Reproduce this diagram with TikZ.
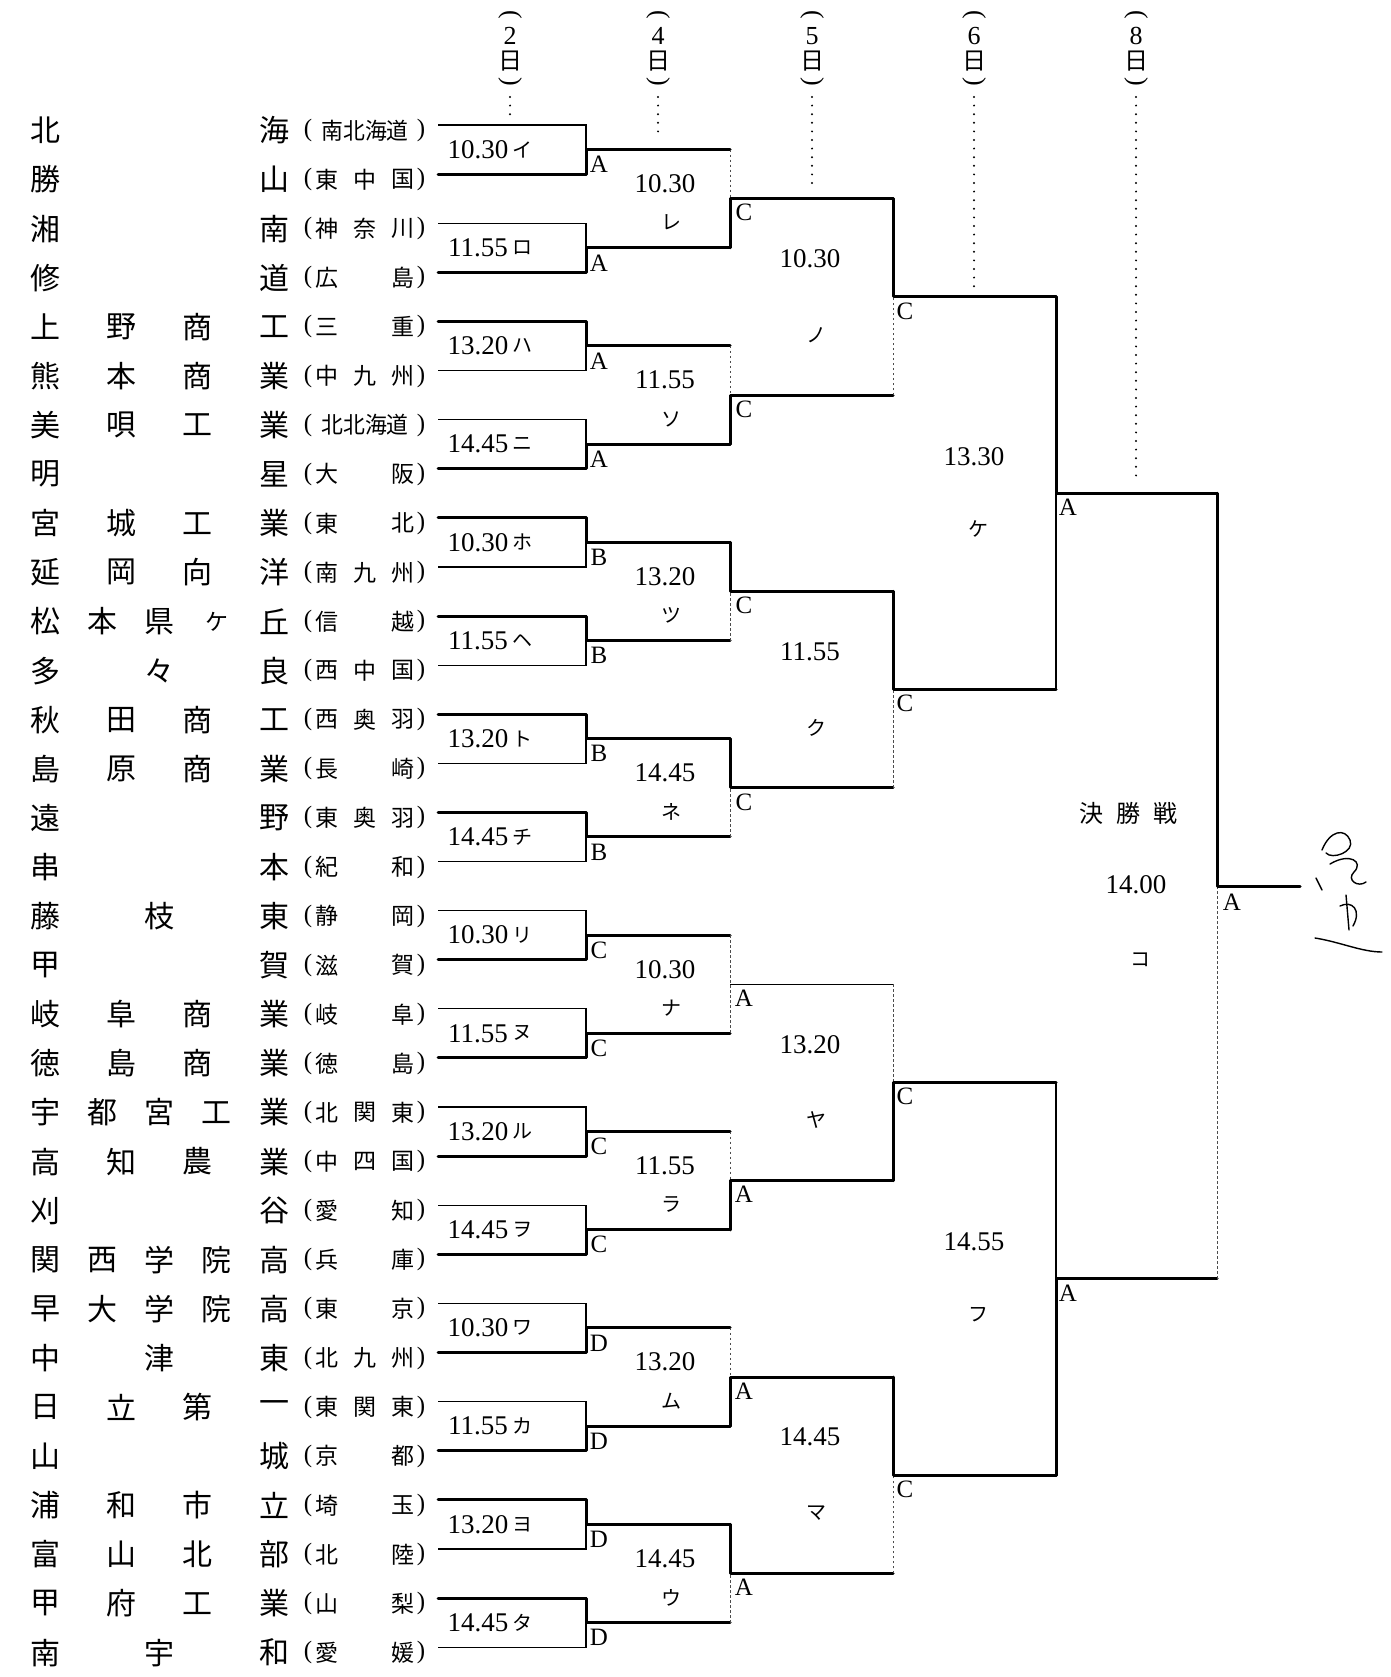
\documentclass[tikz,border=0pt]{standalone}
\usepackage{fontspec}
\setmainfont{Liberation Serif}
\newfontfamily\jp{Noto Sans CJK JP}
\tikzset{
  thinl/.style={line width=1.2pt},
  winl/.style={line width=3pt, line join=round, line cap=round},
  faintl/.style={line width=1pt, dash pattern=on 2.5pt off 2.5pt, black!70},
  dotl/.style={line width=2.2pt, line cap=round, dash pattern=on 0pt off 8.6pt},
  sigl/.style={line width=1.4pt, line cap=round},
  teamtxt/.style={font={\jp\fontsize{30}{30}\selectfont}, inner sep=0pt},
  preftxt/.style={font={\jp\fontsize{23}{23}\selectfont}, inner sep=0pt},
  partxt/.style={font={\fontsize{25}{25}\selectfont}, inner sep=0pt},
  tmlbl/.style={font={\fontsize{27}{27}\selectfont}, inner sep=0pt},
  knlbl/.style={font={\jp\fontsize{20}{20}\selectfont}, inner sep=0pt},
  vnlbl/.style={font={\fontsize{25}{25}\selectfont}, inner sep=0pt},
  daytxt/.style={font={\jp\fontsize{24}{24}\selectfont}, inner sep=0pt},
  daynum/.style={font={\fontsize{26}{26}\selectfont}, inner sep=0pt},
  hdpar/.style={font={\fontsize{26}{26}\selectfont}, inner sep=0pt},
  bigtxt/.style={font={\jp\fontsize{24}{24}\selectfont}, inner sep=0pt},
}
\newcommand\TRow[3]{%
  \foreach \ch [count=\kk from 0] in {#3} {%
    \node[teamtxt] (t#1-\kk) at ({45+\kk*229/(#2-1)}, {130.5+49.1*#1}) {\ch};
  }}
\newcommand\PRow[4]{%
  \node[partxt] (po#1) at (308,{130.5+49.1*#1}) {(};
  \node[preftxt] (pa#1) at (327,{130.5+49.1*#1}) {#2};
  \node[preftxt] (pb#1) at (365,{130.5+49.1*#1}) {#3};
  \node[preftxt] (pc#1) at (403,{130.5+49.1*#1}) {#4};
  \node[partxt] (pe#1) at (421,{130.5+49.1*#1}) {)};}
\newcommand\PRowF[2]{%
  \node[partxt] (po#1) at (308,{130.5+49.1*#1}) {(};
  \node[preftxt, xscale=0.95] (pa#1) at (365,{130.5+49.1*#1}) {#2};
  \node[partxt] (pe#1) at (421,{130.5+49.1*#1}) {)};}
\begin{document}
\begin{tikzpicture}[x=1pt,y=-1pt]
\fill[white] (0,0) rectangle (1390,1677);
\useasboundingbox (0,0) rectangle (1390,1677);

% ---------- teams ----------
\TRow{0}{2}{北,海}\PRowF{0}{南北海道}
\TRow{1}{2}{勝,山}\PRow{1}{東}{中}{国}
\TRow{2}{2}{湘,南}\PRow{2}{神}{奈}{川}
\TRow{3}{2}{修,道}\PRow{3}{広}{}{島}
\TRow{4}{4}{上,野,商,工}\PRow{4}{三}{}{重}
\TRow{5}{4}{熊,本,商,業}\PRow{5}{中}{九}{州}
\TRow{6}{4}{美,唄,工,業}\PRowF{6}{北北海道}
\TRow{7}{2}{明,星}\PRow{7}{大}{}{阪}
\TRow{8}{4}{宮,城,工,業}\PRow{8}{東}{}{北}
\TRow{9}{4}{延,岡,向,洋}\PRow{9}{南}{九}{州}
\TRow{10}{5}{松,本,県,{\fontsize{23}{23}\selectfont ケ},丘}\PRow{10}{信}{}{越}
\TRow{11}{3}{多,々,良}\PRow{11}{西}{中}{国}
\TRow{12}{4}{秋,田,商,工}\PRow{12}{西}{奥}{羽}
\TRow{13}{4}{島,原,商,業}\PRow{13}{長}{}{崎}
\TRow{14}{2}{遠,野}\PRow{14}{東}{奥}{羽}
\TRow{15}{2}{串,本}\PRow{15}{紀}{}{和}
\TRow{16}{3}{藤,枝,東}\PRow{16}{静}{}{岡}
\TRow{17}{2}{甲,賀}\PRow{17}{滋}{}{賀}
\TRow{18}{4}{岐,阜,商,業}\PRow{18}{岐}{}{阜}
\TRow{19}{4}{徳,島,商,業}\PRow{19}{徳}{}{島}
\TRow{20}{5}{宇,都,宮,工,業}\PRow{20}{北}{関}{東}
\TRow{21}{4}{高,知,農,業}\PRow{21}{中}{四}{国}
\TRow{22}{2}{刈,谷}\PRow{22}{愛}{}{知}
\TRow{23}{5}{関,西,学,院,高}\PRow{23}{兵}{}{庫}
\TRow{24}{5}{早,大,学,院,高}\PRow{24}{東}{}{京}
\TRow{25}{3}{中,津,東}\PRow{25}{北}{九}{州}
\TRow{26}{4}{日,立,第,一}\PRow{26}{東}{関}{東}
\TRow{27}{2}{山,城}\PRow{27}{京}{}{都}
\TRow{28}{4}{浦,和,市,立}\PRow{28}{埼}{}{玉}
\TRow{29}{4}{富,山,北,部}\PRow{29}{北}{}{陸}
\TRow{30}{4}{甲,府,工,業}\PRow{30}{山}{}{梨}
\TRow{31}{3}{南,宇,和}\PRow{31}{愛}{}{媛}

% ---------- coordinates ----------
\foreach \i in {0,...,31} {
  \coordinate (L\i) at (438,{125+49.1*\i});
  \coordinate (R\i) at (586,{125+49.1*\i});
}
\foreach \k in {0,...,15} {
  \coordinate (a\k) at (586,{125+49.1*(2*\k+0.5)});
  \coordinate (ao\k) at (730,{125+49.1*(2*\k+0.5)});
}
\foreach \k in {0,...,7} {
  \coordinate (b\k) at (730,{125+49.1*(4*\k+1.5)});
  \coordinate (bo\k) at (893,{125+49.1*(4*\k+1.5)});
}
\foreach \k in {0,...,3} {
  \coordinate (c\k) at (893,{125+49.1*(8*\k+3.5)});
  \coordinate (co\k) at (1056,{125+49.1*(8*\k+3.5)});
}
\foreach \k in {0,1} {
  \coordinate (d\k) at (1056,{125+49.1*(16*\k+7.5)});
  \coordinate (do\k) at (1217,{125+49.1*(16*\k+7.5)});
}
\coordinate (e) at (1217,{125+49.1*15.5});
\coordinate (eo) at (1300,{125+49.1*15.5});

% ---------- round 1 ----------
\foreach \k/\w/\tm/\kn/\L in {0/1/10.30/イ/A, 1/1/11.55/ロ/A, 2/0/13.20/ハ/A, 3/1/14.45/ニ/A,
  4/0/10.30/ホ/B, 5/0/11.55/ヘ/B, 6/0/13.20/ト/B, 7/0/14.45/チ/B,
  8/1/10.30/リ/C, 9/1/11.55/ヌ/C, 10/1/13.20/ル/C, 11/1/14.45/ヲ/C,
  12/1/10.30/ワ/D, 13/1/11.55/カ/D, 14/0/13.20/ヨ/D, 15/0/14.45/タ/D} {
  \pgfmathtruncatemacro\ti{2*\k}
  \pgfmathtruncatemacro\bi{2*\k+1}
  \pgfmathtruncatemacro\wi{2*\k+\w}
  \draw[thinl] (L\ti) -- (R\ti) -- (R\bi) -- (L\bi);
  \draw[winl] (L\wi) -- (R\wi) -- (a\k) -- (ao\k);
  \node[tmlbl] (tm1-\k) at (478,{125+49.1*(2*\k+0.5)}) {\tm};
  \node[knlbl] (kn1-\k) at (522,{125+49.1*(2*\k+0.5)}) {\kn};
  \node[vnlbl] (vn1-\k) at ([shift={(13,15)}]a\k) {\L};
}

% ---------- round 2 ----------
\foreach \k/\w/\tm/\kn/\L in {0/1/10.30/レ/C, 1/1/11.55/ソ/C, 2/0/13.20/ツ/C, 3/0/14.45/ネ/C,
  4/2/10.30/ナ/A, 5/1/11.55/ラ/A, 6/1/13.20/ム/A, 7/0/14.45/ウ/A} {
  \pgfmathtruncatemacro\ti{2*\k}
  \pgfmathtruncatemacro\bi{2*\k+1}
  \ifnum\w=2
    \draw[faintl] (ao\ti) -- (ao\bi);
    \draw[thinl] (b\k) -- (bo\k);
  \else
    \pgfmathtruncatemacro\wi{2*\k+\w}
    \pgfmathtruncatemacro\li{2*\k+1-\w}
    \draw[faintl] (ao\li) -- (b\k);
    \draw[winl] (ao\wi) -- (b\k) -- (bo\k);
  \fi
  \node[tmlbl] (tm2-\k) at (665,{125+49.1*(4*\k+1.5)-15}) {\tm};
  \node[knlbl] (kn2-\k) at (671,{125+49.1*(4*\k+1.5)+24}) {\kn};
  \node[vnlbl] (vn2-\k) at ([shift={(14,14)}]b\k) {\L};
}

% ---------- round 3 ----------
\foreach \k/\w/\tm/\kn/\L in {0/0/10.30/ノ/C, 1/0/11.55/ク/C, 2/1/13.20/ヤ/C, 3/0/14.45/マ/C} {
  \pgfmathtruncatemacro\wi{2*\k+\w}
  \pgfmathtruncatemacro\li{2*\k+1-\w}
  \draw[faintl] (bo\li) -- (c\k);
  \draw[winl] (bo\wi) -- (c\k) -- (co\k);
  \node[tmlbl] (tm3-\k) at (810,{125+49.1*(8*\k+3.5)-38}) {\tm};
  \node[knlbl] (kn3-\k) at (816,{125+49.1*(8*\k+3.5)+38}) {\kn};
  \node[vnlbl] (vn3-\k) at ([shift={(12,14)}]c\k) {\L};
}

% ---------- round 4 ----------
\foreach \k/\w/\tm/\kn/\L in {0/0/13.30/ケ/A, 1/1/14.55/フ/A} {
  \pgfmathtruncatemacro\wi{2*\k+\w}
  \pgfmathtruncatemacro\li{2*\k+1-\w}
  \draw[thinl] (co\li) -- (d\k);
  \draw[winl] (co\wi) -- (d\k) -- (do\k);
  \node[tmlbl] (tm4-\k) at (974,{125+49.1*(16*\k+7.5)-37}) {\tm};
  \node[knlbl] (kn4-\k) at (978,{125+49.1*(16*\k+7.5)+36}) {\kn};
  \node[vnlbl] (vn4-\k) at ([shift={(12,14)}]d\k) {\L};
}

% ---------- final ----------
\draw[faintl] (do1) -- (e);
\draw[winl] (do0) -- (e) -- (eo);
\node[bigtxt] (f1) at (1091,813) {決};
\node[bigtxt] (f2) at (1128,813) {勝};
\node[bigtxt] (f3) at (1165,813) {戦};
\node[tmlbl] (ftm) at (1136,885) {14.00};
\node[knlbl] (fkn) at (1140,960) {コ};
\node[vnlbl] (fvn) at ([shift={(15,16)}]e) {A};

% ---------- day headers ----------
\foreach \x/\d/\n/\y in {510/2/h2/115, 658/4/h4/139, 812/5/h5/188, 974/6/h6/287, 1136/8/h8/483} {
  \node[hdpar, rotate=-90] (\n a) at (\x,15) {(};
  \node[daynum] (\n b) at (\x,36) {\d};
  \node[daytxt] (\n c) at (\x,61) {日};
  \node[hdpar, rotate=-90] (\n d) at (\x,82) {)};
  \coordinate (\n s) at (\x,97);
  \coordinate (\n e) at (\x,\y);
  \draw[dotl] (\n s) -- (\n e);
}

% ---------- handwritten mark ----------
\draw[sigl] (1322,850) .. controls (1330,830) and (1345,828) .. (1350,840) .. controls (1355,852) and (1332,860) .. (1326,853);
\draw[sigl] (1330,864) .. controls (1350,852) and (1364,862) .. (1354,872) .. controls (1346,880) and (1358,888) .. (1366,882);
\draw[sigl] (1346,895) -- (1349,930);
\draw[sigl] (1340,906) .. controls (1352,900) and (1362,910) .. (1353,926);
\draw[sigl] (1316,878) -- (1322,890);
\draw[sigl] (1315,938) .. controls (1340,942) and (1362,952) .. (1382,952);
\end{tikzpicture}
\end{document}
